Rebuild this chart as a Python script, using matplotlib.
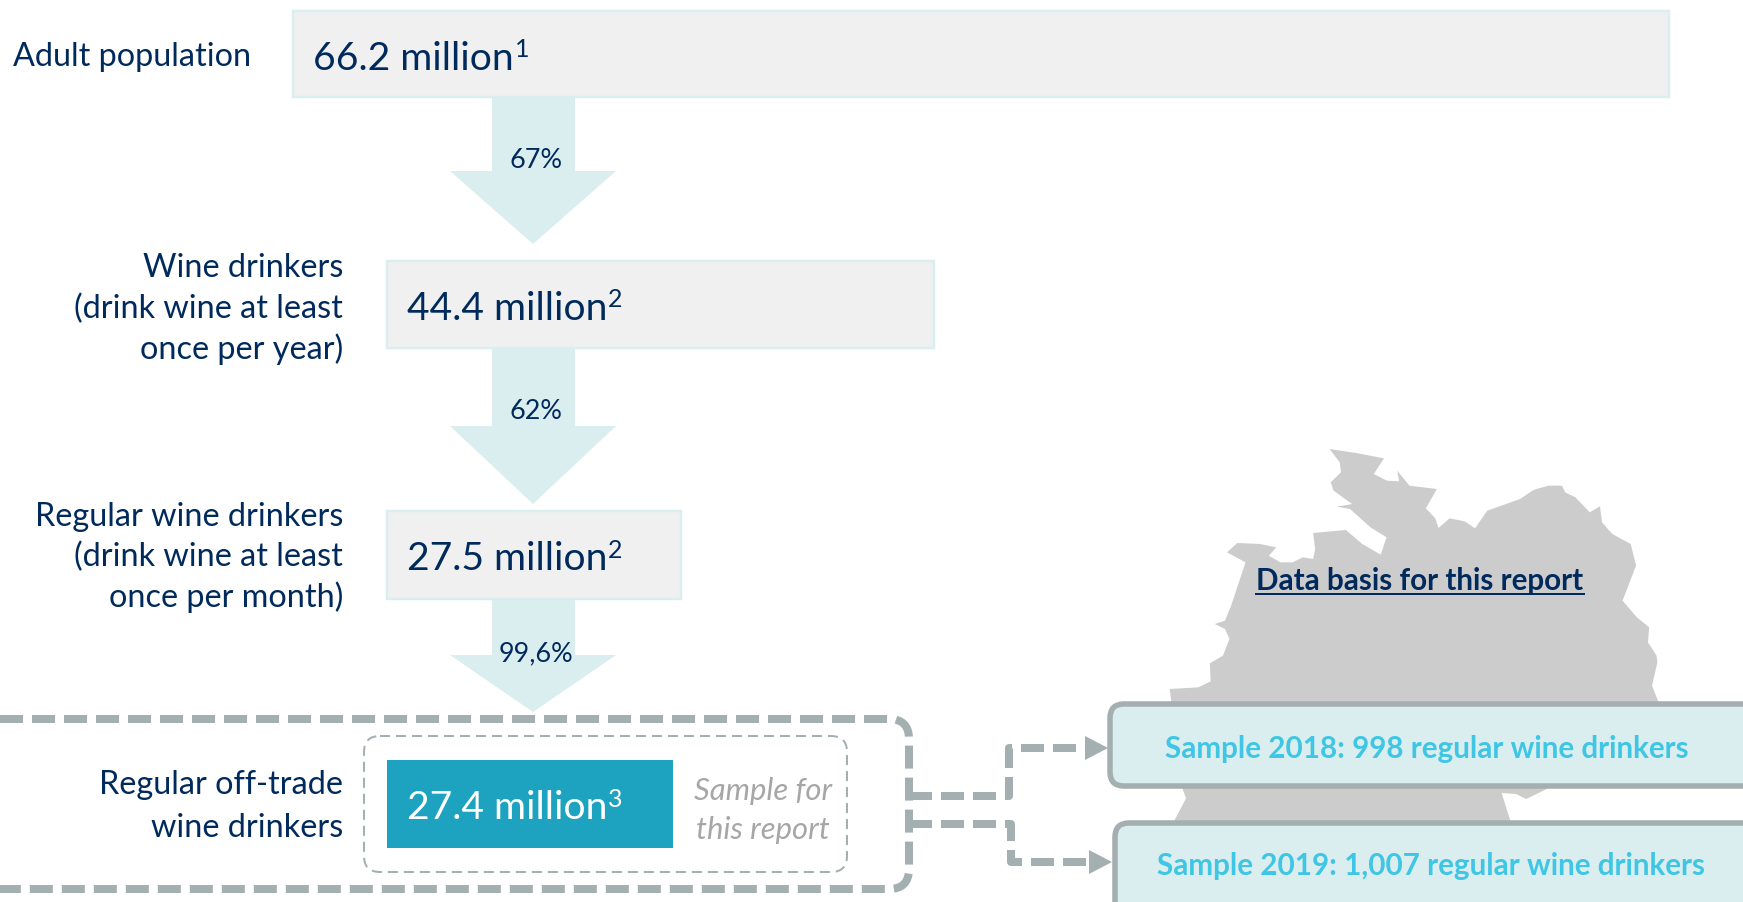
import matplotlib
matplotlib.use("Agg")
import numpy as np
import matplotlib.pyplot as plt
from matplotlib.patches import FancyBboxPatch, Polygon, PathPatch, Rectangle
from matplotlib.path import Path

plt.rcParams['font.family'] = ['Lato', 'DejaVu Sans']

# funnel values
values = [66.2, 44.4, 27.5, 27.4]
notes = ["1", "2", "2", "3"]
shares = ["67%", "62%", "99,6%"]
labels = ["Adult population",
          "Wine drinkers\n(drink wine at least\nonce per year)",
          "Regular wine drinkers\n(drink wine at least\nonce per month)",
          "Regular off-trade\nwine drinkers"]
samples = ["Sample 2018: 998 regular wine drinkers",
           "Sample 2019: 1,007 regular wine drinkers"]

# box layout in pixels: left, top, right, bottom
boxes = [(293, 12, 1669, 98), (387, 262, 934, 349), (387, 512, 681, 600), (387, 761, 673, 849)]
label_y = [[57], [268, 309, 349], [517, 557, 597], [785, 828]]
shafts = [(99, 172), (349, 427), (600, 656)]
tips = [245, 505, 713]
share_y = [160, 412, 654]

# outline of the map, traced by hand
map_x = np.array([560, 625, 693, 668, 700, 730, 725, 755, 822, 795, 818, 826, 853, 890, 915, 945, 1025, 1055,
                  1065, 1095, 1127, 1135, 1160, 1195, 1220, 1225, 1250, 1295, 1308, 1275, 1310, 1340, 1337,
                  1358, 1360, 1347, 1363, 1363, 1090, 1040, 1015, 980, 1005, 175, 210, 200, 170, 240, 270,
                  268, 300, 316, 305, 280, 305, 320, 355, 310, 335, 390, 430, 412, 440, 470, 495, 520, 525,
                  520, 600, 640, 685, 699, 660, 610, 578, 615, 570, 563, 588, 585]) / 2.44 + 1100
map_y = np.array([60, 72, 88, 135, 155, 157, 125, 170, 180, 238, 268, 297, 268, 277, 298, 245, 210, 185,
                  180, 170, 170, 190, 205, 250, 232, 280, 315, 345, 410, 515, 565, 595, 640,
                  680, 700, 770, 820, 900, 1080, 1110, 1095, 1092, 1190, 1190, 1108, 1075, 780, 775, 757,
                  703, 680, 630, 600, 585, 575, 530, 400, 370, 342, 345, 355, 380, 400, 400, 385, 390, 360,
                  312, 303, 345, 377, 325, 295, 240, 233, 225, 185, 160, 130, 100]) / 3 + 430

navy = "#002A5C"
pale = "#DAEDEF"
teal = "#1DA3BF"
dash_grey = "#A3AFB0"
sky = "#3EC6E4"

W, H = 1743, 903
fig = plt.figure(figsize=(W / 100, H / 100), dpi=100)
ax = fig.add_axes([0, 0, 1, 1])
ax.set_xlim(0, W)
ax.set_ylim(H, 0)
ax.axis("off")
px = 0.72  # points per pixel at dpi 100

ax.add_patch(Polygon(np.column_stack([map_x, map_y]), closed=True, fc="#CCCCCC", ec="none", zorder=1))

# arrows between the boxes
for (top, neck), tip in zip(shafts, tips):
    ax.add_patch(Polygon([(492, top), (575, top), (575, neck), (616, neck), (533, tip), (450, neck), (492, neck)],
                         closed=True, fc=pale, ec="none", zorder=2))
for s, y in zip(shares, share_y):
    ax.text(536, y, s, color=navy, fontsize=27 * px, ha="center", va="center", zorder=5)

# funnel boxes with value and footnote number
for i, (l, t, r, b) in enumerate(boxes):
    last = i == len(boxes) - 1
    ax.add_patch(Rectangle((l, t), r - l, b - t, fc=teal if last else "#F0F0F0",
                           ec="none" if last else pale, lw=2.5 * px, zorder=3))
    colour = "white" if last else navy
    mid = (t + b) / 2
    main = ax.text(l + 20, mid, f"{values[i]} million", color=colour, fontsize=39 * px,
                   ha="left", va="center_baseline", zorder=5)
    fig.canvas.draw()
    ext = main.get_window_extent()
    ax.text(ext.x1 + 1, mid + 2, notes[i], color=colour, fontsize=25 * px,
            ha="left", va="baseline", zorder=5)

for text, ys in zip(labels, label_y):
    for line, y in zip(text.split("\n"), ys):
        x, ha = (13, "left") if len(ys) == 1 else (343, "right")
        ax.text(x, y, line, color=navy, fontsize=32.4 * px, ha=ha, va="center", zorder=5)

# dashed frames around the sample row
dash = (0, (23 / 8, 9 / 8))
outer = Path([(0, 720), (889, 720), (909, 720), (909, 740), (909, 870), (909, 890), (889, 890), (0, 890)],
             [Path.MOVETO, Path.LINETO, Path.CURVE3, Path.CURVE3, Path.LINETO, Path.CURVE3, Path.CURVE3, Path.LINETO])
ax.add_patch(PathPatch(outer, fc="none", ec=dash_grey, lw=8 * px, ls=dash, zorder=4))
ax.add_patch(FancyBboxPatch((364, 737), 483, 136, boxstyle="round,pad=0,rounding_size=16",
                            fc="none", ec=dash_grey, lw=2 * px, ls=(0, (5, 3)), zorder=2.5))
ax.text(763, 791, "Sample for", color="#A6A6A6", style="italic", fontsize=31 * px, ha="center", va="center", zorder=5)
ax.text(763, 830, "this report", color="#A6A6A6", style="italic", fontsize=31 * px, ha="center", va="center", zorder=5)

# connectors to the sample boxes
for y0, y1, xv, tip_x in [(797, 749, 1009, 1108), (825, 863, 1011, 1112)]:
    ax.plot([909, xv, xv, tip_x - 20], [y0, y0, y1, y1], color=dash_grey, lw=8 * px, ls=dash, zorder=2)
    ax.add_patch(Polygon([(tip_x - 23, y1 - 12), (tip_x, y1), (tip_x - 23, y1 + 12)],
                         closed=True, fc=dash_grey, ec="none", zorder=2))

# sample boxes run off the page edge
for (l, t, r, b), s, cx, cy in zip([(1110, 705, 1760, 787), (1115, 824, 1760, 920)], samples,
                                   [1427, 1431], [749, 866]):
    ax.add_patch(FancyBboxPatch((l, t), r - l, b - t, boxstyle="round,pad=0,rounding_size=14",
                                fc=pale, ec=dash_grey, lw=5.5 * px, zorder=3))
    ax.text(cx, cy, s, color=sky, fontsize=29.6 * px, fontweight="bold", ha="center", va="center", zorder=5)

head = ax.text(1420, 581, "Data basis for this report", color=navy, fontsize=29.6 * px, fontweight="bold",
               ha="center", va="center", zorder=5)
fig.canvas.draw()
ext = head.get_window_extent()
ax.plot([ext.x0, ext.x1], [595, 595], color=navy, lw=2 * px, zorder=5)

fig.savefig("out.png", dpi=100)
